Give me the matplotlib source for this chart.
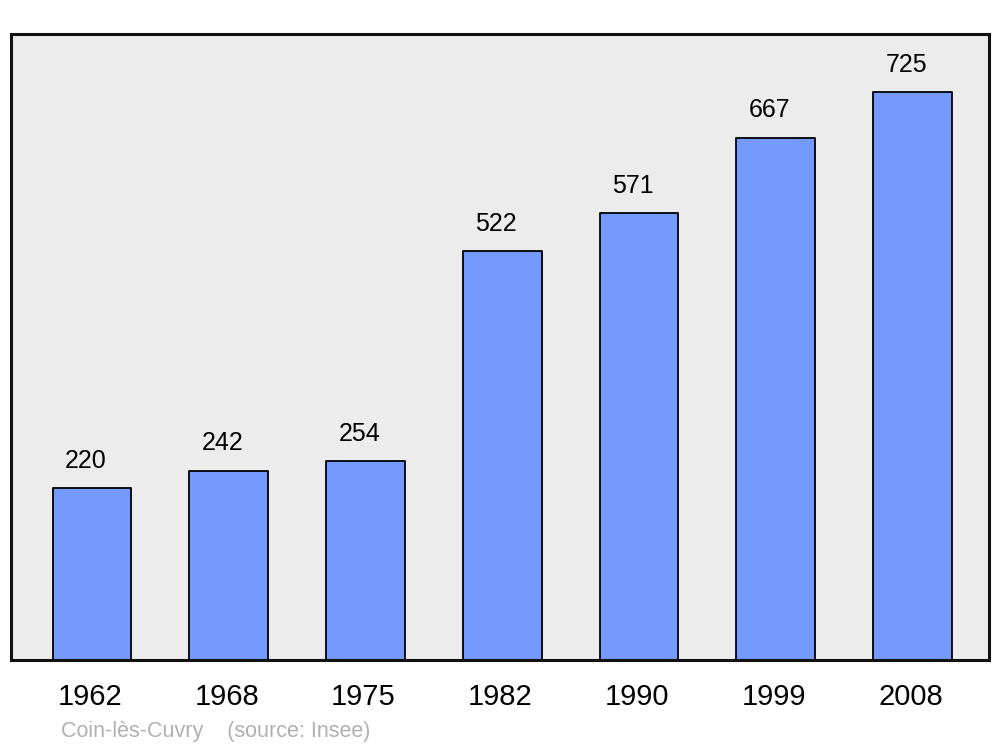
import matplotlib.pyplot as plt

plt.rcParams['font.family'] = ['Liberation Sans', 'DejaVu Sans']

years = ['1962', '1968', '1975', '1982', '1990', '1999', '2008']
population = [220, 242, 254, 522, 571, 667, 725]
commune = 'Coin-lès-Cuvry'
source = '(source: Insee)'

fig = plt.figure(figsize=(10, 7.47), dpi=100)
ax = fig.add_axes([0.011, 0.116, 0.978, 0.838])
ax.set_facecolor('#ececec')

x = list(range(len(years)))
bars = ax.bar(x, population, width=0.575, color='#7499ff', edgecolor='black',
              linewidth=1.3, zorder=2)
for b in bars:
    b.set_joinstyle('round')

for xi, v in zip(x, population):
    ax.text(xi - 0.045, v + 26, str(v), ha='center', va='baseline', fontsize=18)

ax.set_xlim(-0.592, 6.559)
ax.set_ylim(0, 799)
ax.set_xticks([xi - 0.015 for xi in x])
ax.set_xticklabels(years, fontsize=21)
ax.tick_params(axis='x', length=0, pad=16.5)
ax.set_yticks([])
for s in ax.spines.values():
    s.set_linewidth(2.2)
    s.set_color('#111111')
    s.set_joinstyle('round')

fig.text(0.061, 0.007, commune + '    ' + source, fontsize=15.5, color='#b0b0b0',
         ha='left', va='bottom')

fig.savefig('out.png', dpi=100)
